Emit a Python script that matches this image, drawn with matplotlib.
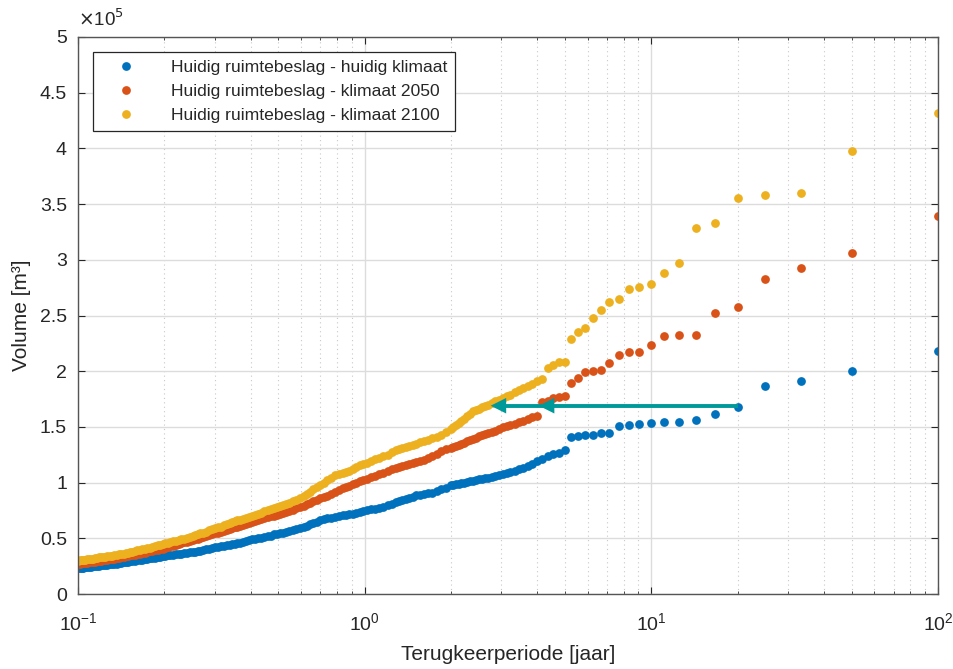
import numpy as np
import matplotlib
matplotlib.use('Agg')
import matplotlib.pyplot as plt
from matplotlib.ticker import FuncFormatter, LogLocator, FixedLocator

plt.rcParams['font.family'] = ['Liberation Sans', 'DejaVu Sans']

# rank of each event in a 100 year series (T = n_years / rank)
n_years = 100
rank = [1, 2, 3, 4, 5, 6, 7, 8, 9, 10, 11, 12, 13, 14, 15, 16, 17, 18, 19,
        20, 21, 22, 23, 24, 25, 26, 27, 28, 29, 30, 31, 32, 33, 34, 35, 36, 37, 38, 39, 40,
        41, 42, 43, 44, 45, 46, 47, 48, 49, 50,
        52, 54, 56, 58, 60, 62, 64, 66, 68, 70, 72, 74, 76, 78, 80,
        83, 86, 89, 92, 95, 98, 101, 104, 107, 110, 113, 116, 119,
        123, 127, 131, 135, 139, 143, 147, 151, 155, 159, 163,
        168, 173, 178, 183, 188, 193, 198, 203, 208, 213, 218,
        224, 230, 236, 242, 248, 254, 260, 266, 272, 278, 284, 290, 296, 302,
        310, 318, 326, 334, 342, 350, 358, 366, 374, 382, 390, 398, 406,
        416, 426, 436, 446, 456, 466, 476, 486, 496, 506, 516, 526,
        538, 550, 562, 574, 586, 598, 610, 622, 634, 646, 658, 670, 682, 694, 706,
        720, 734, 748, 762, 776, 790, 804, 818, 832, 846, 860, 874, 888, 902, 916,
        930, 944, 958, 972, 986, 1000]

# volumes in 1e5 m3
huidig = [2.18, 2.00, 1.915, 1.867, 1.676, 1.616, 1.562, 1.547, 1.544, 1.535,
          1.526, 1.517, 1.505, 1.448, 1.443, 1.427, 1.427, 1.421, 1.407,
          1.29, 1.27, 1.255, 1.235, 1.21, 1.19, 1.17, 1.15, 1.13, 1.12, 1.105,
          1.095, 1.085, 1.075, 1.065, 1.06, 1.05, 1.045, 1.04, 1.035, 1.03,
          1.025, 1.015, 1.01, 1.005, 1.0, 0.995, 0.99, 0.985, 0.98, 0.975,
          0.955, 0.94, 0.925, 0.91, 0.905, 0.9, 0.89, 0.885, 0.875, 0.865, 0.855, 0.845, 0.835, 0.825, 0.81,
          0.795, 0.785, 0.775, 0.765, 0.76, 0.75, 0.745, 0.735, 0.73, 0.72, 0.715, 0.71, 0.705,
          0.70, 0.69, 0.685, 0.68, 0.67, 0.665, 0.65, 0.64, 0.625, 0.61, 0.60,
          0.59, 0.58, 0.575, 0.565, 0.56, 0.55, 0.545, 0.54, 0.535, 0.525, 0.52,
          0.515, 0.505, 0.50, 0.495, 0.49, 0.485, 0.48, 0.47, 0.46, 0.455, 0.45, 0.445, 0.44, 0.44,
          0.435, 0.43, 0.425, 0.42, 0.41, 0.405, 0.40, 0.395, 0.39, 0.385, 0.38, 0.378, 0.375,
          0.37, 0.367, 0.36, 0.358, 0.355, 0.352, 0.35, 0.347, 0.344, 0.34, 0.336, 0.332,
          0.327, 0.324, 0.321, 0.317, 0.312, 0.309, 0.306, 0.303, 0.30, 0.296, 0.292, 0.289, 0.286, 0.283, 0.28,
          0.276, 0.272, 0.269, 0.267, 0.265, 0.262, 0.26, 0.258, 0.256, 0.254, 0.252, 0.25, 0.248, 0.245, 0.243,
          0.241, 0.239, 0.237, 0.235, 0.233, 0.23]

klimaat_2050 = [3.39, 3.058, 2.924, 2.825, 2.576, 2.522, 2.328, 2.322, 2.313, 2.235,
                2.175, 2.172, 2.148, 2.074, 2.008, 2.002, 1.996, 1.936, 1.891,
                1.78, 1.77, 1.755, 1.735, 1.72, 1.60, 1.585, 1.57, 1.555, 1.545, 1.53,
                1.515, 1.505, 1.495, 1.48, 1.465, 1.455, 1.445, 1.435, 1.425, 1.415,
                1.40, 1.39, 1.38, 1.37, 1.355, 1.345, 1.335, 1.325, 1.317, 1.31,
                1.30, 1.28, 1.255, 1.235, 1.22, 1.207, 1.197, 1.185, 1.175, 1.165, 1.155, 1.148, 1.142, 1.135, 1.122,
                1.102, 1.088, 1.075, 1.06, 1.047, 1.035, 1.024, 1.012, 1.0, 0.985, 0.97, 0.96, 0.952,
                0.932, 0.915, 0.897, 0.882, 0.868, 0.858, 0.847, 0.833, 0.82, 0.807, 0.793,
                0.78, 0.768, 0.755, 0.744, 0.734, 0.726, 0.72, 0.71, 0.702, 0.696, 0.688,
                0.678, 0.67, 0.663, 0.655, 0.648, 0.638, 0.628, 0.62, 0.612, 0.605, 0.598, 0.59, 0.583, 0.577,
                0.57, 0.56, 0.552, 0.545, 0.538, 0.531, 0.52, 0.512, 0.505, 0.497, 0.49, 0.485, 0.48,
                0.47, 0.463, 0.456, 0.448, 0.44, 0.433, 0.427, 0.42, 0.414, 0.407, 0.401, 0.397,
                0.392, 0.387, 0.382, 0.377, 0.372, 0.367, 0.362, 0.357, 0.352, 0.348, 0.346, 0.342, 0.337, 0.333, 0.33,
                0.326, 0.322, 0.318, 0.314, 0.31, 0.308, 0.305, 0.301, 0.297, 0.294, 0.292, 0.29, 0.288, 0.285, 0.283,
                0.281, 0.279, 0.277, 0.274, 0.272, 0.27]

klimaat_2100 = [4.32, 3.977, 3.602, 3.582, 3.555, 3.328, 3.285, 2.974, 2.884, 2.783,
                2.759, 2.735, 2.648, 2.618, 2.546, 2.474, 2.385, 2.355, 2.286,
                2.085, 2.083, 2.06, 2.03, 1.93, 1.91, 1.885, 1.865, 1.845, 1.83, 1.81,
                1.79, 1.775, 1.76, 1.745, 1.73, 1.715, 1.70, 1.69, 1.68, 1.665,
                1.655, 1.64, 1.62, 1.60, 1.575, 1.55, 1.532, 1.515, 1.497, 1.48,
                1.45, 1.425, 1.41, 1.40, 1.385, 1.372, 1.36, 1.35, 1.34, 1.33, 1.32, 1.31, 1.30, 1.29, 1.273,
                1.252, 1.24, 1.225, 1.21, 1.195, 1.18, 1.168, 1.155, 1.14, 1.12, 1.105, 1.095, 1.088,
                1.078, 1.064, 1.045, 1.025, 1.0, 0.98, 0.96, 0.94, 0.92, 0.90, 0.88,
                0.862, 0.848, 0.835, 0.818, 0.805, 0.797, 0.79, 0.78, 0.771, 0.762, 0.752,
                0.741, 0.73, 0.719, 0.71, 0.702, 0.693, 0.683, 0.675, 0.667, 0.66, 0.652, 0.645, 0.637, 0.628,
                0.615, 0.605, 0.597, 0.59, 0.58, 0.571, 0.56, 0.552, 0.545, 0.537, 0.53, 0.522, 0.515,
                0.505, 0.497, 0.491, 0.485, 0.479, 0.472, 0.466, 0.46, 0.454, 0.447, 0.441, 0.437,
                0.431, 0.424, 0.417, 0.412, 0.406, 0.401, 0.397, 0.392, 0.387, 0.381, 0.376, 0.372, 0.367, 0.363, 0.36,
                0.356, 0.352, 0.348, 0.344, 0.34, 0.338, 0.335, 0.333, 0.331, 0.328, 0.324, 0.32, 0.318, 0.315, 0.313,
                0.311, 0.309, 0.307, 0.304, 0.302, 0.30]

labels = ['Huidig ruimtebeslag - huidig klimaat',
          'Huidig ruimtebeslag - klimaat 2050',
          'Huidig ruimtebeslag - klimaat 2100']
colours = ['#0072BD', '#D95319', '#EDB120']

# arrow: same volume, shorter return period
arrow_volume = 1.69
arrow_start = 20
arrow_tips = [2.75, 4.05]
arrow_colour = '#00999A'

T = n_years / np.array(rank, dtype=float)
txtc = '#262626'

fig = plt.figure(figsize=(9.54, 6.69), dpi=100)
ax = fig.add_axes([0.0818, 0.1121, 0.9014, 0.8326])

for vals, lab, c in zip([huidig, klimaat_2050, klimaat_2100], labels, colours):
    ax.plot(T, np.array(vals) * 1e5, 'o', ms=6.3, mew=0, color=c, label=lab)

# teal arrows
v = arrow_volume * 1e5
ax.plot([arrow_tips[0] * 1.05, arrow_start], [v, v], color=arrow_colour, lw=2.8,
        solid_capstyle='butt', zorder=5)
for tip in arrow_tips:
    ax.annotate('', xy=(tip, v), xytext=(tip * 1.18, v),
                arrowprops=dict(arrowstyle='-|>', color=arrow_colour, lw=0,
                                mutation_scale=28, shrinkA=0, shrinkB=0),
                zorder=6)

ax.set_xscale('log')
ax.set_xlim(0.1, 100)
ax.set_ylim(0, 5e5)
ax.yaxis.set_major_locator(FixedLocator(np.arange(0, 5.01, 0.5) * 1e5))
ax.yaxis.set_major_formatter(FuncFormatter(lambda y, p: '%g' % (y / 1e5)))
ax.xaxis.set_major_locator(LogLocator(base=10, numticks=10))
ax.xaxis.set_minor_locator(LogLocator(base=10, subs=np.arange(2, 10), numticks=10))
ax.xaxis.set_minor_formatter(FuncFormatter(lambda x, p: ''))

ax.grid(True, which='major', color='#dcdcdc', lw=1.0, ls='-')
ax.grid(True, which='minor', axis='x', color='#c8c8c8', lw=0.8, ls=(0, (1, 3)))
ax.set_axisbelow(True)

ax.tick_params(which='both', direction='in', top=True, right=True, colors=txtc,
               labelsize=14, labelcolor=txtc)
ax.tick_params(which='major', length=5, width=0.8)
ax.tick_params(axis='x', which='major', pad=13)
ax.tick_params(axis='y', which='major', pad=8)
ax.tick_params(which='minor', length=2.5, width=0.6)
for s in ax.spines.values():
    s.set_color('#555555')
    s.set_linewidth(1.0)

ax.text(0.0, 1.012, r'$\times$10$^5$', transform=ax.transAxes, fontsize=13.5,
        color=txtc, ha='left', va='bottom')

ax.set_xlabel('Terugkeerperiode [jaar]', fontsize=15, color=txtc, labelpad=8)
ax.set_ylabel('Volume [m³]', fontsize=15, color=txtc, labelpad=6)

leg = ax.legend(loc='upper left', bbox_to_anchor=(0.0178, 0.973), borderaxespad=0,
                fontsize=12.6, frameon=True, fancybox=False, edgecolor='#262626',
                framealpha=1, handletextpad=1.2, borderpad=0.45, labelspacing=0.5,
                handlelength=2.8)
leg.get_frame().set_linewidth(0.9)
for t in leg.get_texts():
    t.set_color(txtc)

fig.savefig('out.png', dpi=100)
